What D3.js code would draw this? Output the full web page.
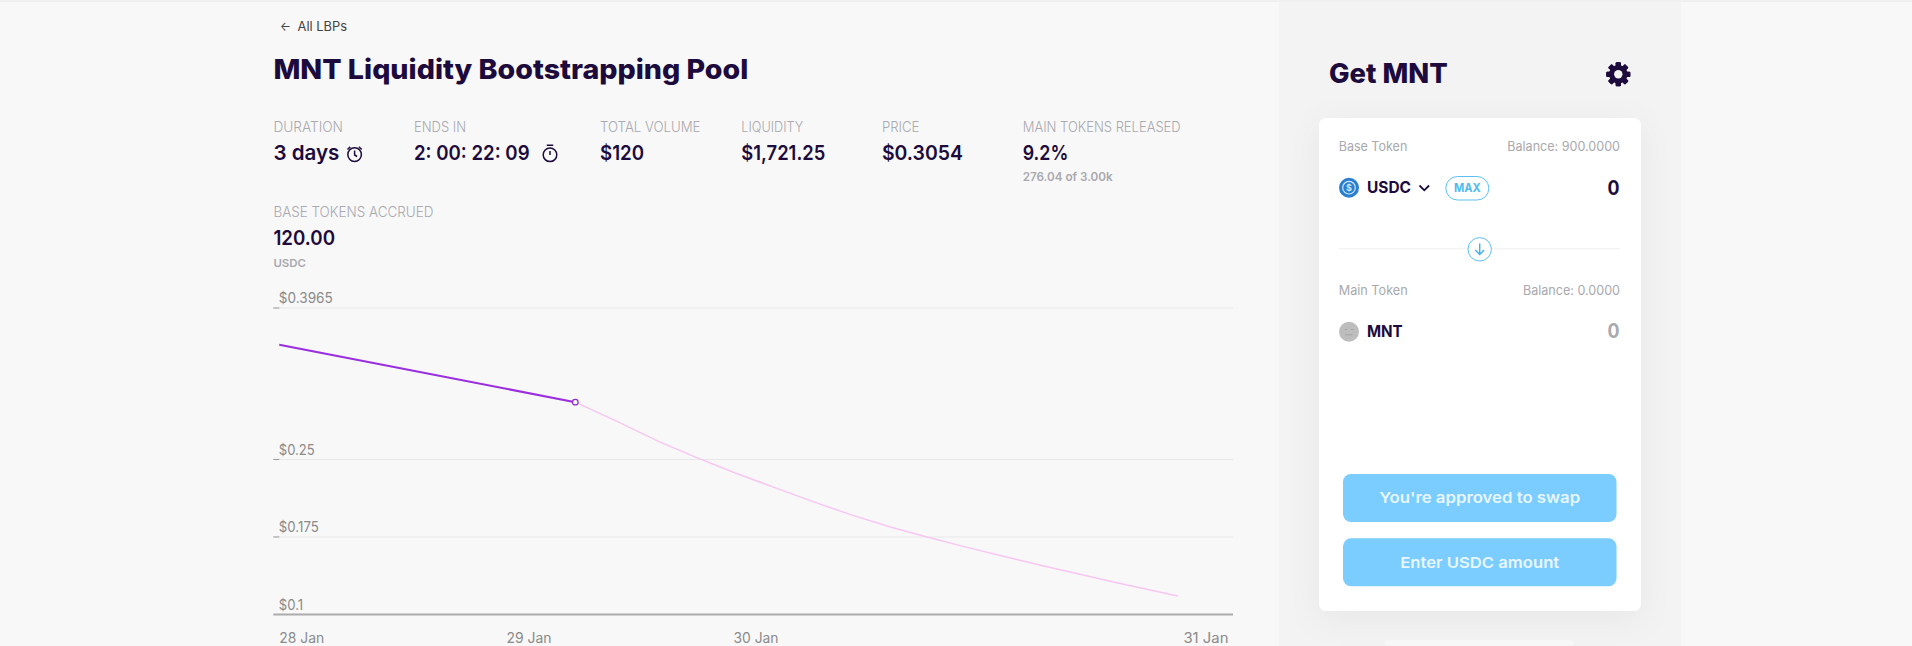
<![CDATA[<!DOCTYPE html>
<html><head><meta charset="utf-8">
<script src="https://d3js.org/d3.v7.min.js"></script>
<style>html,body{margin:0;padding:0;background:#f8f8f9;overflow:hidden}svg{display:block}text{font-family:Inter,"Noto Sans",sans-serif}</style>
</head><body><script>
// ---- data read from the picture ----
const yTicks = [0.3965, 0.25, 0.175, 0.1];
const yTickLabels = ["$0.3965", "$0.25", "$0.175", "$0.1"];
const xTickHours = [0, 18.2, 36.4, 72.45];
const xTickLabels = ["28 Jan", "29 Jan", "30 Jan", "31 Jan"];
const actualHours = [0, 23.72];
const actualPrice = [0.3609, 0.3054];
const projectedHours = [0, 23.72, 27.06, 30.51, 33.55, 36.64, 39.71, 42.77, 45.84, 48.90, 51.98, 55.03, 58.10, 61.17, 64.24, 67.29, 72];
const projectedPrice = [0.3609, 0.3054, 0.2868, 0.2667, 0.2513, 0.2364, 0.2227, 0.2092, 0.1964, 0.1849, 0.1748, 0.1652, 0.1561, 0.1472, 0.1386, 0.1303, 0.1179];
const stats = ["DURATION", "ENDS IN", "TOTAL VOLUME", "LIQUIDITY", "PRICE", "MAIN TOKENS RELEASED"];
const statValues = ["3 days", "2: 00: 22: 09", "$120", "$1,721.25", "$0.3054", "9.2%"];

// ---- layout ----
const DARK = "#1c0b3c", GREY = "#a9a9ae", BLUE = "#5cc0ee";
const svg = d3.select("body").append("svg").attr("id", "c").attr("width", 1912).attr("height", 646);
const defs = svg.append("defs");
const f = defs.append("filter").attr("id", "sh").attr("x", "-30%").attr("y", "-30%").attr("width", "160%").attr("height", "160%");
f.append("feDropShadow").attr("dx", 0).attr("dy", 8).attr("stdDeviation", 16).attr("flood-color", "#000").attr("flood-opacity", 0.05);

function rect(x, y, w, h, fill, r) {
  return svg.append("rect").attr("x", x).attr("y", y).attr("width", w).attr("height", h).attr("fill", fill).attr("rx", r || 0);
}
function label(x, y, t, size, weight, fill, width, anchor) {
  const s = svg.append("text").attr("x", x).attr("y", y).attr("font-size", size).attr("font-weight", weight).attr("fill", fill).attr("text-anchor", anchor || "start").text(t);
  if (width) s.attr("textLength", width).attr("lengthAdjust", "spacingAndGlyphs");
  return s;
}

rect(0, 0, 1912, 646, "#f8f8f9");
rect(0, 0, 1912, 2, "#f0f0f0");
rect(1279, 2, 402, 644, "#f3f3f3");
rect(1385, 640, 188, 6, "#f8f8f8", 3);
rect(1319, 118, 322, 493, "#fff", 7).attr("filter", "url(#sh)");

// header
label(280, 31, "←", 13, 400, "#444", 11);
label(297.5, 31, "All LBPs", 13, 400, "#444", 49.5);
label(273.4, 79, "MNT Liquidity Bootstrapping Pool", 27.5, 800, DARK, 475);

const statX = [273.4, 414, 600, 741.3, 881.9, 1022.7];
const statW = [69.6, 52, 100.5, 62, 37.5, 158];
const valW = [66, 115.6, 44, 84, 81, 45.6];
stats.forEach((s, i) => {
  label(statX[i], 132, s, 14, 300, GREY, statW[i]);
  label(statX[i], 160, statValues[i], 20.5, 600, DARK, valW[i]);
});
label(1022.7, 181, "276.04 of 3.00k", 12, 600, GREY, 90);
label(273.4, 217, "BASE TOKENS ACCRUED", 14, 300, GREY, 160);
label(273.4, 245, "120.00", 20.5, 600, DARK, 61.6);
label(273.4, 266.7, "USDC", 11, 600, GREY, 32.6);

// alarm and stopwatch icons
const ic = svg.append("g").attr("fill", "none").attr("stroke", DARK).attr("stroke-width", 1.5);
ic.append("circle").attr("cx", 354.6).attr("cy", 154.6).attr("r", 6.8);
ic.append("path").attr("d", "M354.6 150.5v4.5l2.5 1.5M347.5 149.5l2.8-2.6M361.7 149.5l-2.8-2.6");
ic.append("circle").attr("cx", 550).attr("cy", 154.8).attr("r", 6.8);
ic.append("path").attr("d", "M550 151v4M546.8 145.3h6.4");

// chart
const x = d3.scaleLinear().domain([0, 72]).range([279.3, 1177.8]);
const y = d3.scaleLinear().domain([0.1, 0.3965]).range([614.5, 308]);
const gridL = 273.3, gridR = 1233;

const gridAxis = d3.axisLeft(y).offset(0).tickValues(yTicks.slice(0, 3)).tickSize(-(gridR - gridL)).tickFormat("");
const g = svg.append("g").attr("transform", `translate(${gridL},0)`).call(gridAxis);
g.select(".domain").remove();
g.selectAll("text").remove();
g.selectAll("line").attr("stroke", "#e7e7e9").attr("stroke-width", 1);

const yAxis = d3.axisRight(y).offset(0).tickValues(yTicks).tickSize(6).tickFormat((d, i) => yTickLabels[i]);
const ya = svg.append("g").attr("transform", `translate(${gridL},0)`).call(yAxis);
ya.select(".domain").remove();
ya.selectAll("line").attr("stroke", "#999").attr("stroke-width", 1);
ya.selectAll(".tick").filter(d => d === 0.1).select("line").remove();
const yW = [54, 36, 40, 24.3];
ya.selectAll("text").attr("x", 5.5).attr("dy", -4.7).attr("font-size", 14).attr("fill", "#8a8a8a")
  .style("font-family", "Inter").attr("textLength", (d, i) => yW[i]).attr("lengthAdjust", "spacingAndGlyphs")
  .attr("text-anchor", "start").attr("dominant-baseline", "auto");

const xAxis = d3.axisBottom(x).offset(0).tickValues(xTickHours).tickSize(0).tickFormat((d, i) => xTickLabels[i]);
const xa = svg.append("g").attr("transform", "translate(0,614.5)").call(xAxis);
xa.select(".domain").remove();
xa.selectAll("text").attr("y", 28).attr("dy", 0).attr("font-size", 14).attr("fill", "#8a8a8a")
  .style("font-family", "Inter").attr("text-anchor", "start").attr("textLength", 45).attr("lengthAdjust", "spacingAndGlyphs");
svg.append("line").attr("x1", gridL).attr("x2", gridR).attr("y1", y(0.1)).attr("y2", y(0.1)).attr("stroke", "#ababab").attr("stroke-width", 2);

const line = d3.line().x(d => x(d[0])).y(d => y(d[1]));
svg.append("path").attr("d", line(d3.zip(projectedHours, projectedPrice))).attr("fill", "none").attr("stroke", "#f8c6f0").attr("stroke-width", 1.5);
svg.append("path").attr("d", line(d3.zip(actualHours, actualPrice))).attr("fill", "none").attr("stroke", "#9a2fe0").attr("stroke-width", 2);
svg.append("circle").attr("cx", x(actualHours[1])).attr("cy", y(actualPrice[1])).attr("r", 2.8).attr("fill", "#f8f8f9").attr("stroke", "#8a2bd0").attr("stroke-width", 1.2);

// swap panel
label(1329, 83, "Get MNT", 27, 800, DARK, 118.7);
const gear = svg.append("g").attr("transform", "translate(1618.3,74.3)");
d3.range(8).forEach(i => gear.append("rect").attr("x", -2.6).attr("y", -12).attr("width", 5.2).attr("height", 24).attr("rx", 1).attr("fill", DARK).attr("transform", `rotate(${i * 45})`));
gear.append("circle").attr("r", 7).attr("fill", "none").attr("stroke", DARK).attr("stroke-width", 4.4);
gear.append("circle").attr("r", 4.2).attr("fill", "#f3f3f3");

label(1338.7, 151, "Base Token", 13, 400, GREY, 68.6);
label(1620, 151, "Balance: 900.0000", 13, 400, GREY, 112.7, "end");
svg.append("circle").attr("cx", 1349).attr("cy", 187.7).attr("r", 10).attr("fill", "#2b7fd0");
svg.append("circle").attr("cx", 1349).attr("cy", 187.7).attr("r", 6.3).attr("fill", "none").attr("stroke", "#cfe6f8").attr("stroke-width", 1.2);
label(1349, 191, "$", 9, 700, "#cfe6f8", null, "middle");
label(1367, 193.3, "USDC", 16, 700, DARK, 44);
svg.append("path").attr("d", "M1419.5 185.5l4.8 4.8 4.8-4.8").attr("fill", "none").attr("stroke", DARK).attr("stroke-width", 1.8);
rect(1445.8, 176.5, 43, 23.5, "#fff", 11.7).attr("stroke", BLUE).attr("stroke-width", 1);
label(1467.3, 192.3, "MAX", 12, 700, "#4fbbf0", 26.7, "middle");
label(1619.5, 194.5, "0", 20, 700, DARK, 12, "end");

svg.append("line").attr("x1", 1338.7).attr("x2", 1620).attr("y1", 248.7).attr("y2", 248.7).attr("stroke", "#f0f0f1");
svg.append("circle").attr("cx", 1479.7).attr("cy", 249.3).attr("r", 11.7).attr("fill", "#fff").attr("stroke", BLUE).attr("stroke-width", 1);
svg.append("path").attr("d", "M1479.7 243.5v10.5M1475.3 250l4.4 4.4 4.4-4.4").attr("fill", "none").attr("stroke", "#3fb2ea").attr("stroke-width", 1.4);

label(1338.7, 295, "Main Token", 13, 400, GREY, 69);
label(1620, 295, "Balance: 0.0000", 13, 400, GREY, 97, "end");
svg.append("circle").attr("cx", 1349).attr("cy", 331.7).attr("r", 10).attr("fill", "#bdbdbd");
svg.append("path").attr("d", "M1344.5 329.5h2.5M1351 329.5h2.5M1345.5 334.8h7").attr("stroke", "#a4a4a4").attr("stroke-width", 1).attr("fill", "none");
label(1367, 337.3, "MNT", 16, 700, DARK, 35.7);
label(1619.5, 338, "0", 20, 700, GREY, 12, "end");

rect(1343, 474, 273.5, 48, "#7bcdff", 8);
rect(1343, 538.3, 273.5, 48, "#7bcdff", 8);
label(1479.7, 503.3, "You're approved to swap", 15, 600, "#e8f7ff", 201, "middle");
label(1479.7, 567.8, "Enter USDC amount", 15, 600, "#e8f7ff", 159, "middle");
</script></body></html>]]>
